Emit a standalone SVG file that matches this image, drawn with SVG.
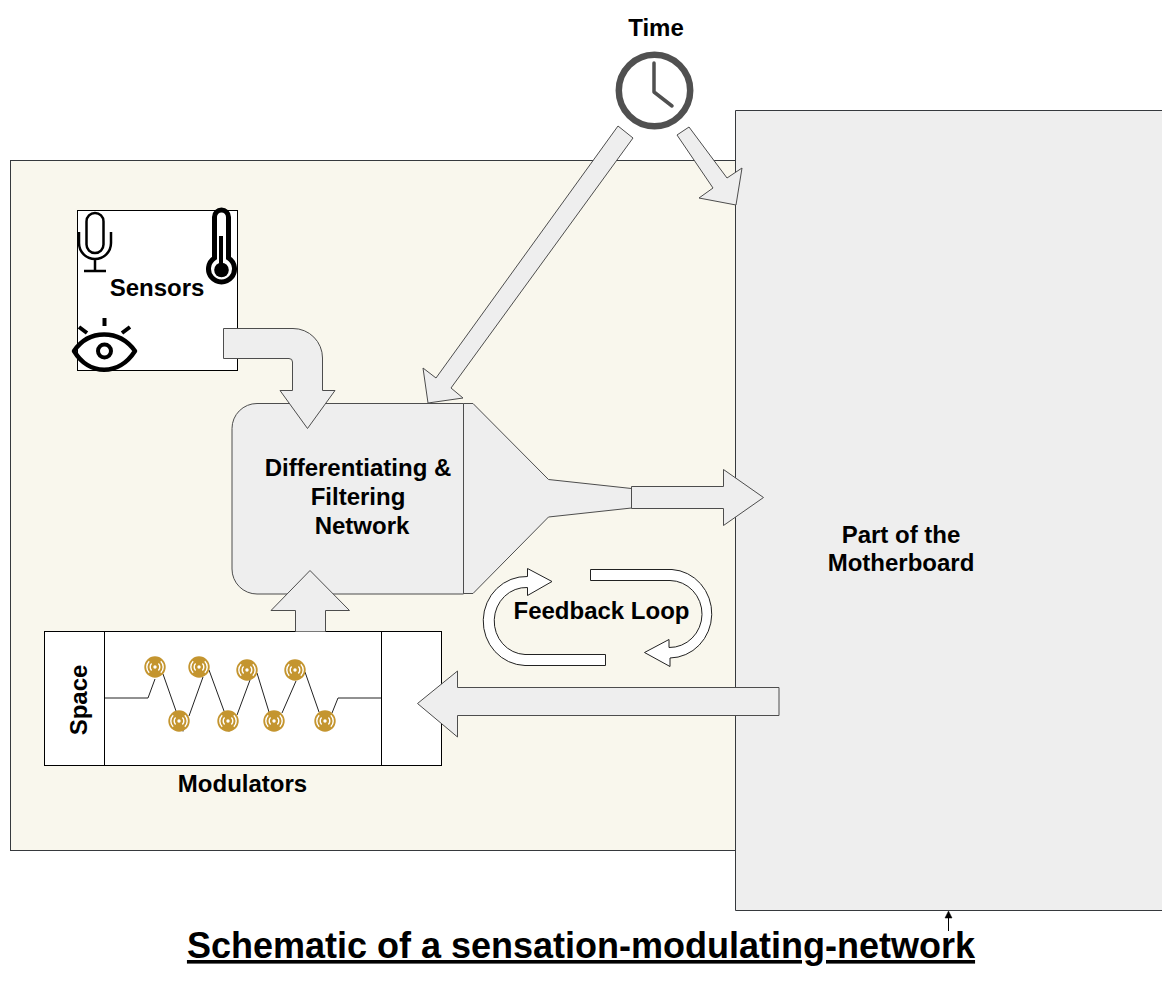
<svg xmlns="http://www.w3.org/2000/svg" width="1173" height="983" viewBox="0 0 1173 983">
<style>
text{font-family:"Liberation Sans",Arial,sans-serif;font-weight:bold;fill:#000;text-anchor:middle}
.l{font-size:24px}
.a{fill:#eeeeee;stroke:#4d4d4d;stroke-width:1}
.w{fill:#fff;stroke:#222;stroke-width:1}
.b{fill:#fff;stroke:#000;stroke-width:1}
.ic{fill:none;stroke:#000}
.z{fill:none;stroke:#222;stroke-width:1}
.dot{fill:#c4952f}
.r{fill:none;stroke:#fff;stroke-width:1.4}
</style>
<defs>
<g id="mod"><circle r="10.700" class="dot"/><circle r="1.700" fill="#fff"/><path class="r" d="M-3.400-3.400A4.800 4.800 0 0 0-3.400 3.400M3.400-3.400A4.800 4.800 0 0 1 3.400 3.400M-5.800-5.800A8.200 8.200 0 0 0-5.800 5.800M5.800-5.800A8.200 8.200 0 0 1 5.800 5.800"/></g>
</defs>
<rect width="1173" height="983" fill="#fff"/>
<rect id="bg" x="10.500" y="160.500" width="726" height="690" fill="#f9f7ed" stroke="#36393d"/>
<g id="motherboard"><path d="M1162 110.500H735.500V910.500H1162" fill="#eeeeee" stroke="#36393d"/><text class="l" x="901" y="543">Part of the</text><text class="l" x="901" y="571">Motherboard</text></g>
<g id="time"><text class="l" x="656" y="36">Time</text><circle cx="654.500" cy="90.500" r="35.700" fill="#fff" stroke="#505050" stroke-width="6.500"/><path d="M654 63V92L672 106" fill="none" stroke="#505050" stroke-width="3.500" stroke-linecap="round" stroke-linejoin="round"/></g>
<g id="sensors"><rect x="77.500" y="210.500" width="160" height="160" class="b"/>
<path class="ic" stroke-width="2.500" d="M86.500 221.500a8.500 8.500 0 0 1 17 0v23a8.500 8.500 0 0 1-17 0zM79 232v11a16 16 0 0 0 32 0v-11M95 259v12M84 271h22"/>
<path class="ic" stroke-width="5" d="M214.500 258V217a7 7 0 0 1 14 0v41a13 13 0 1 1-14 0z"/><circle cx="221.500" cy="270" r="7.300" fill="#000"/><path class="ic" stroke-width="4" d="M221 236V268"/>
<path class="ic" stroke-width="4.500" stroke-linejoin="round" d="M74 351C89 329 119 329 135 351C119 376 89 376 74 351Z"/><circle cx="104.500" cy="351" r="6.500" fill="none" stroke="#000" stroke-width="4"/><path class="ic" stroke-width="4" d="M104.500 318V326M79 327L87 333M130 327L122 333"/>
<text class="l" x="157" y="296">Sensors</text></g>
<g id="network"><path class="a" d="M463.500 403.500H257a25 25 0 0 0-25 25V569a25 25 0 0 0 25 25H463.500Z"/><path class="a" d="M463.500 403.500H473L548.500 479.500L631.500 488.500V508L548.500 517L473 593.500H463.500Z"/><text class="l" x="358" y="476">Differentiating &amp;</text><text class="l" x="358" y="505">Filtering</text><text class="l" x="362" y="534">Network</text></g>
<g id="modulators"><rect x="44.500" y="631.500" width="397" height="134" class="b"/><path d="M104.500 631.500V765.500M381.500 631.500V765.500" stroke="#000" fill="none"/>
<path class="z" d="M105 698H148L155 679M163 674L176 711M189 716L203 677M209 670L224 711M237 715L250 680M257 673L269 712M282 713L296 681M305 672L319 712M332 713L338 698H381M183 730V731.500M229 730V731.500"/>
<use href="#mod" x="155" y="667"/><use href="#mod" x="199" y="667"/><use href="#mod" x="247" y="670"/><use href="#mod" x="295" y="670"/><use href="#mod" x="179" y="721"/><use href="#mod" x="228" y="721"/><use href="#mod" x="274" y="721"/><use href="#mod" x="325" y="721"/>
<text class="l" transform="translate(87 700) rotate(-90)">Space</text><text class="l" x="242.500" y="792">Modulators</text></g>
<g id="connectors">
<path class="a" d="M223.500 328.500H293A29.500 29.500 0 0 1 322.500 358V390.500H335L307.500 428.500L280 390.500H292.500V362Q292.500 358.500 289 358.500H223.500Z"/>
<path class="a" d="M618 126L633 138L451 388L463 398L428 403L423 368L436 378Z"/>
<path class="a" d="M677 135L689 127L727 178L742 168L736 205L699 198L713 188Z"/>
<path class="a" d="M631.500 486.500H723.500V469.500L763.500 497.500L723.500 525.500V508.500H631.500Z"/>
<path class="a" d="M779 687.500H457.500V671L417.500 703.500L457.500 737V715.500H779Z"/>
<path class="a" d="M295.500 631.500V610.500H271L310 570.500L349.500 610.500H325.500V631.500"/>
<path class="w" d="M590.500 569.500H672A42.500 44.300 0 0 1 670 658V666.500L644.500 652.500L669 639.500V647.500A32.500 33.500 0 0 0 670 580.500H590.500Z"/>
<path class="w" d="M605.500 665.500H525A43 44.500 0 0 1 527.500 576.500V568.500L552 581.500L527.500 595.500V587.500A32 33.500 0 0 0 525 654.500H605.500Z"/>
<path d="M948.500 931V915" stroke="#000" fill="none"/><path d="M945 918L948.500 911L952 918Z" fill="#000" stroke="#000" stroke-width=".5"/>
</g>
<g id="feedback"><text class="l" x="601.500" y="619">Feedback Loop</text></g>
<text x="581" y="958" font-size="36" text-decoration="underline">Schematic of a sensation-modulating-network</text>
</svg>
